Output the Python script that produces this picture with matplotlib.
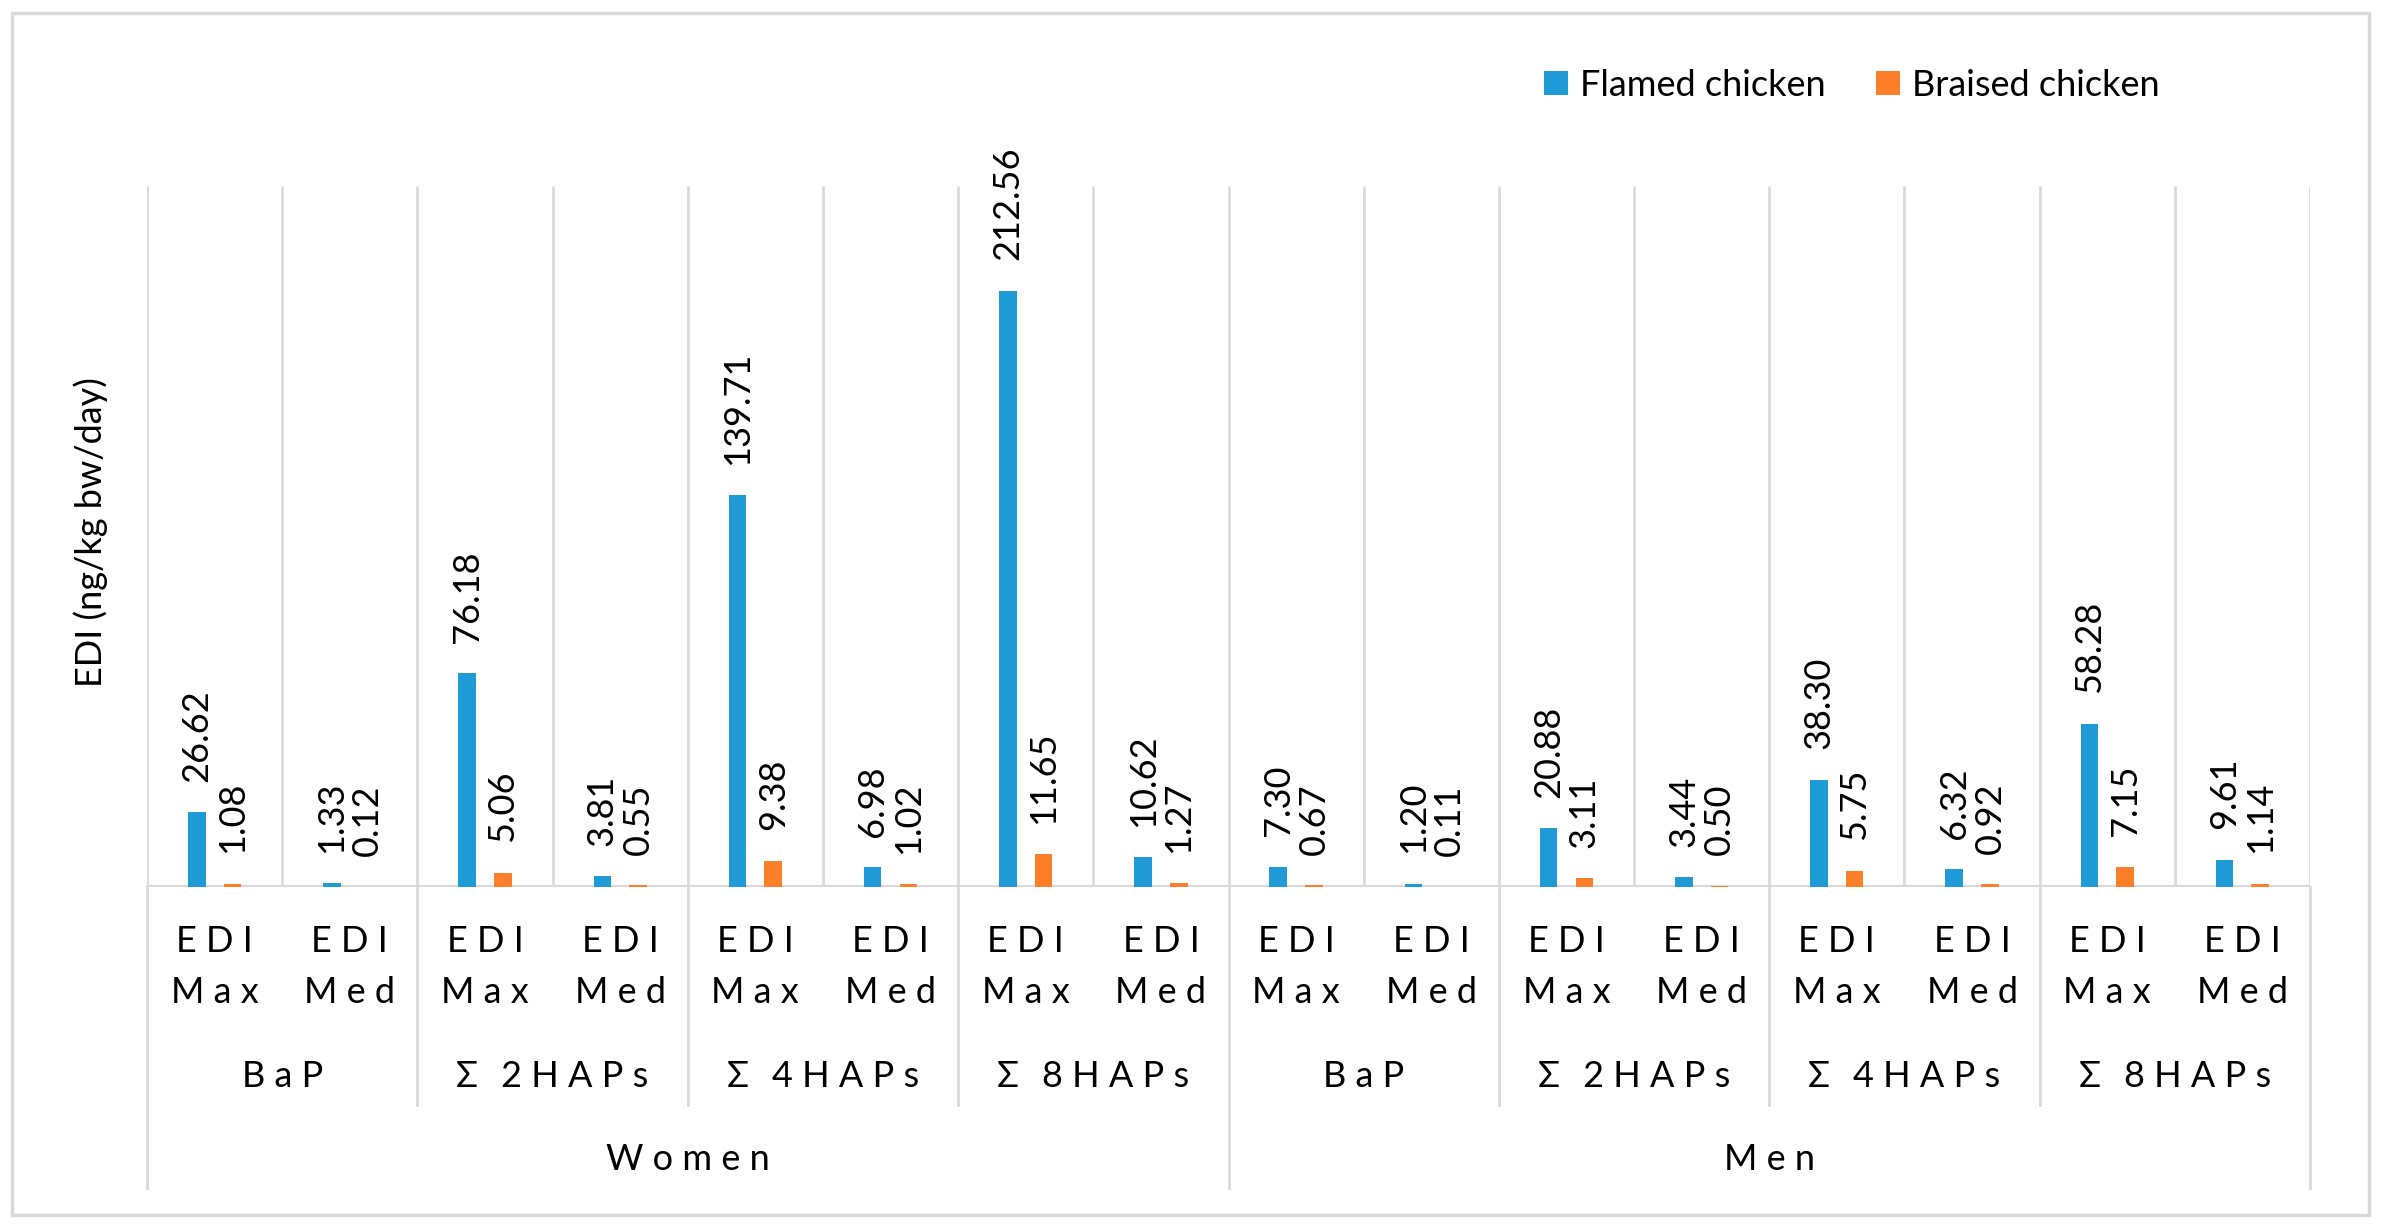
import numpy as np
import matplotlib.pyplot as plt
from matplotlib.patches import Rectangle
from matplotlib.transforms import blended_transform_factory

plt.rcParams['font.family'] = ['Lato', 'DejaVu Sans']

# data (EDI, ng/kg bw/day)
populations = ["Women", "Men"]
compounds = ["BaP", "Σ 2HAPs", "Σ 4HAPs", "Σ 8HAPs"]
stats = ["EDI Max", "EDI Med"]
flamed = [26.62, 1.33, 76.18, 3.81, 139.71, 6.98, 212.56, 10.62,
          7.30, 1.20, 20.88, 3.44, 38.30, 6.32, 58.28, 9.61]
braised = [1.08, 0.12, 5.06, 0.55, 9.38, 1.02, 11.65, 1.27,
           0.67, 0.11, 3.11, 0.50, 5.75, 0.92, 7.15, 1.14]

blue = "#1f9bd7"
orange = "#fe7f2a"
grid = "#d9d9d9"
fs = 26


def spaced(s):
    # excel-like letter spacing
    return " ".join(s.replace(" ", "\u2009"))


W, H = 2383, 1229
fig = plt.figure(figsize=(W / 100, H / 100), dpi=100)
ax = fig.add_axes([147 / W, 1 - 887 / H, (2310 - 147) / W, (887 - 186) / H])

n = len(flamed)
x = np.arange(n) + 0.5
bw = 0.13
b1 = ax.bar(x - 0.132, flamed, bw, color=blue, label="Flamed chicken", zorder=3)
b2 = ax.bar(x + 0.132, braised, bw, color=orange, label="Braised chicken", zorder=3)

ax.set_xlim(0, n)
ax.set_ylim(0, 250)
ax.axis("off")

# vertical separators + baseline
ax.vlines(np.arange(n + 1), 0, 250, color=grid, lw=2, zorder=0)
ax.axhline(0, color=grid, lw=3, zorder=2)

# value labels
for xi, v in zip(x - 0.132, flamed):
    ax.annotate(f"{v:.2f}", (xi, v), xytext=(0, 22), textcoords="offset points",
                rotation=90, ha="center", va="bottom", fontsize=fs)
for xi, v in zip(x + 0.132, braised):
    ax.annotate(f"{v:.2f}", (xi, v), xytext=(0, 22), textcoords="offset points",
                rotation=90, ha="center", va="bottom", fontsize=fs)

# multi-level category axis
trans = blended_transform_factory(ax.transData, ax.transAxes)
for i in range(n):
    first, second = stats[i % 2].split(" ")
    ax.text(x[i], -0.078, spaced(first), transform=trans, ha="center", va="center", fontsize=fs)
    ax.text(x[i], -0.151, spaced(second), transform=trans, ha="center", va="center", fontsize=fs)

for g in range(len(populations) * len(compounds)):
    ax.text(2 * g + 1, -0.271, spaced(compounds[g % 4]), transform=trans,
            ha="center", va="center", fontsize=fs)

for p, name in enumerate(populations):
    ax.text(8 * p + 4, -0.389, spaced(name), transform=trans,
            ha="center", va="center", fontsize=fs)

for b in range(0, n + 1, 2):
    low = -0.429 if b % 8 == 0 else -0.311
    ax.plot([b, b], [0, low], color=grid, lw=2, transform=trans, clip_on=False)

# axis title
fig.text(91 / W, 1 - 532 / H, "EDI (ng/kg bw/day)", rotation=90,
         ha="center", va="center", fontsize=fs)

# legend
fig.legend(handles=[b1, b2], loc="center", bbox_to_anchor=(1852 / W, 1 - 85 / H),
           ncol=2, frameon=False, fontsize=26, handlelength=0.66, handleheight=0.66,
           handletextpad=0.33, columnspacing=1.4)

# outer chart border
fig.patches.append(Rectangle((12 / W, 1 - 1215 / H), (2369 - 12) / W, (1215 - 13) / H,
                             transform=fig.transFigure, fill=False, edgecolor=grid, lw=2.5))

fig.savefig("out.png", dpi=100)
